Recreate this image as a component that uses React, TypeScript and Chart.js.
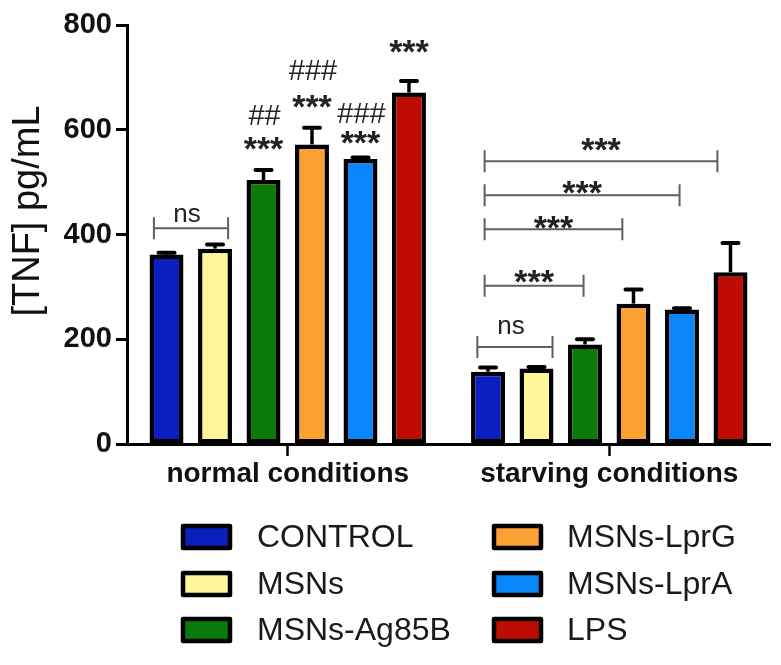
import React, { useEffect, useRef } from "react";
import { Chart, registerables } from "chart.js";

Chart.register(...registerables);

const groupLabels = ["normal conditions", "starving conditions"];
const seriesNames = ["CONTROL", "MSNs", "MSNs-Ag85B", "MSNs-LprG", "MSNs-LprA", "LPS"];
const normalValues = [362, 373, 504, 572, 544, 671];
const normalErrors = [3, 8, 19, 32, 3, 22];
const starvingValues = [138, 144, 190, 268, 257, 328];
const starvingErrors = [8, 3, 10, 27, 2, 56];
const seriesColors = ["#0b1ec0", "#fff799", "#0a7a0a", "#fba134", "#0a86fb", "#bf0b02"];

const yTicks = [0, 200, 400, 600, 800];
const yTitle = "[TNF] pg/mL";

// significance marks above the "normal conditions" bars (value level = data units)
const normalHashLabels = ["", "", "##", "###", "###", ""];
const normalHashLevels = [0, 0, 628, 714, 632, 0];
const normalStarLabels = ["", "", "***", "***", "***", "***"];
const normalStarLevels = [0, 0, 582, 661, 592, 766];

// comparison brackets: group index, span in bar-index units, level in data units
const brackets = [
  { group: 0, from: -0.26, to: 1.27, level: 412, label: "ns", labelLevel: 437 },
  { group: 1, from: -0.22, to: 1.33, level: 185, label: "ns", labelLevel: 223 },
  { group: 1, from: -0.07, to: 1.97, level: 302, label: "***", labelLevel: 328 },
  { group: 1, from: -0.07, to: 2.77, level: 410, label: "***", labelLevel: 431 },
  { group: 1, from: -0.07, to: 3.95, level: 475, label: "***", labelLevel: 498 },
  { group: 1, from: -0.07, to: 4.73, level: 540, label: "***", labelLevel: 580 },
];

const FONT = '"Liberation Sans", Arial, Helvetica, sans-serif';

const overlayPlugin = {
  id: "overlay",
  afterDatasetsDraw(chart: any) {
    const ctx = chart.ctx;
    const yScale = chart.scales.y;
    const errs = [normalErrors, starvingErrors];
    const vals = [normalValues, starvingValues];
    ctx.save();
    // error bars
    ctx.strokeStyle = "#000";
    for (let i = 0; i < seriesNames.length; i++) {
      const meta = chart.getDatasetMeta(i);
      for (let g = 0; g < 2; g++) {
        const bar = meta.data[g];
        const v = vals[g][i];
        const e = errs[g][i];
        const yTop = yScale.getPixelForValue(v);
        const yE = yScale.getPixelForValue(v + e);
        ctx.lineWidth = 3.5;
        ctx.beginPath();
        ctx.moveTo(bar.x, yTop);
        ctx.lineTo(bar.x, yE);
        ctx.stroke();
        ctx.lineWidth = 4;
        ctx.lineCap = "round";
        ctx.beginPath();
        ctx.moveTo(bar.x - 8, yE);
        ctx.lineTo(bar.x + 8, yE);
        ctx.stroke();
        ctx.lineCap = "butt";
      }
    }
    // normal-group annotations
    ctx.fillStyle = "#222";
    ctx.textAlign = "center";
    ctx.textBaseline = "alphabetic";
    for (let i = 0; i < seriesNames.length; i++) {
      const bar = chart.getDatasetMeta(i).data[0];
      if (normalHashLabels[i]) {
        const size = 29;
        ctx.font = `${size}px ${FONT}`;
        ctx.fillText(normalHashLabels[i], bar.x + 1, yScale.getPixelForValue(normalHashLevels[i]) + 0.35 * size);
      }
      if (normalStarLabels[i]) {
        const size = 34;
        ctx.font = `bold ${size}px ${FONT}`;
        ctx.fillText(normalStarLabels[i], bar.x, yScale.getPixelForValue(normalStarLevels[i]) + 0.6 * size);
      }
    }
    // brackets
    const m0 = chart.getDatasetMeta(0);
    const m1 = chart.getDatasetMeta(1);
    for (const b of brackets) {
      const x0 = m0.data[b.group].x;
      const step = m1.data[b.group].x - x0;
      const xa = x0 + b.from * step;
      const xb = x0 + b.to * step;
      const y = yScale.getPixelForValue(b.level);
      ctx.strokeStyle = "#5f5f5f";
      ctx.lineWidth = 2;
      ctx.beginPath();
      ctx.moveTo(xa, y);
      ctx.lineTo(xb, y);
      ctx.moveTo(xa, y - 11);
      ctx.lineTo(xa, y + 11);
      ctx.moveTo(xb, y - 11);
      ctx.lineTo(xb, y + 11);
      ctx.stroke();
      const ly = yScale.getPixelForValue(b.labelLevel);
      ctx.fillStyle = "#222";
      if (b.label === "ns") {
        const size = 26;
        ctx.font = `${size}px ${FONT}`;
        ctx.fillText(b.label, (xa + xb) / 2 - 4, ly + 0.26 * size);
      } else {
        const size = 34;
        ctx.font = `bold ${size}px ${FONT}`;
        ctx.fillText(b.label, (xa + xb) / 2, ly + 0.6 * size);
      }
    }
    ctx.restore();
  },
  afterDraw(chart: any) {
    const ctx = chart.ctx;
    ctx.save();
    // y axis title
    ctx.translate(29, 211);
    ctx.rotate(-Math.PI / 2);
    ctx.font = `38px ${FONT}`;
    ctx.fillStyle = "#111";
    ctx.textAlign = "center";
    ctx.textBaseline = "middle";
    ctx.fillText(yTitle, 0, 0);
    ctx.restore();

    // legend, two columns of three
    ctx.save();
    const colBox = [181, 492];
    const colText = [257, 567];
    const rowY = [537, 584, 630];
    for (let i = 0; i < seriesNames.length; i++) {
      const c = Math.floor(i / 3);
      const r = i % 3;
      const bx = colBox[c];
      const by = rowY[r] - 13;
      ctx.fillStyle = seriesColors[i];
      ctx.fillRect(bx + 2, by + 2, 47, 22);
      ctx.strokeStyle = "#000";
      ctx.lineWidth = 4.5;
      ctx.lineJoin = "round";
      ctx.strokeRect(bx + 2, by + 2, 47, 22);
      ctx.fillStyle = "#1a1a1a";
      ctx.font = `32px ${FONT}`;
      ctx.textAlign = "left";
      ctx.textBaseline = "middle";
      ctx.fillText(seriesNames[i], colText[c], rowY[r] + 1);
    }
    ctx.restore();
  },
};

export default function App() {
  const ref = useRef<HTMLCanvasElement | null>(null);
  useEffect(() => {
    if (!ref.current) return;
    const chart = new Chart(ref.current, {
      type: "bar",
      data: {
        labels: groupLabels,
        datasets: seriesNames.map((name, i) => ({
          label: name,
          data: [normalValues[i], starvingValues[i]],
          backgroundColor: seriesColors[i],
          borderColor: "#000",
          borderWidth: 4.5,
          borderSkipped: false,
          categoryPercentage: 0.905,
          barPercentage: 0.7,
        })),
      },
      options: {
        responsive: false,
        animation: false,
        layout: { padding: { top: 25, right: 11, left: 0, bottom: 0 } },
        plugins: { legend: { display: false }, tooltip: { enabled: false } },
        scales: {
          x: {
            grid: {
              offset: false,
              drawOnChartArea: false,
              drawTicks: true,
              tickLength: 12,
              tickWidth: 2.5,
              tickColor: "#000",
            },
            border: { display: true, color: "#000", width: 3 },
            ticks: {
              font: { family: FONT, weight: "bold", size: 28 },
              color: "#111",
              padding: 1,
              maxRotation: 0,
              autoSkip: false,
            },
            afterFit(scale: any) {
              scale.height = 221;
            },
          },
          y: {
            min: 0,
            max: 800,
            afterBuildTicks(scale: any) {
              scale.ticks = yTicks.map((v) => ({ value: v }));
            },
            ticks: {
              font: { family: FONT, weight: "bold", size: 29 },
              color: "#111",
              padding: 4,
            },
            grid: {
              drawOnChartArea: false,
              drawTicks: true,
              tickLength: 11,
              tickWidth: 3,
              tickColor: "#000",
            },
            border: { display: true, color: "#000", width: 3 },
            afterFit(scale: any) {
              scale.width = 127;
            },
          },
        },
      },
      plugins: [overlayPlugin],
    } as any);
    return () => chart.destroy();
  }, []);
  return (
    <div style={{ position: "absolute", left: 0, top: 0, width: 781, height: 665, background: "#fff" }}>
      <canvas ref={ref} width={781} height={665} />
    </div>
  );
}
